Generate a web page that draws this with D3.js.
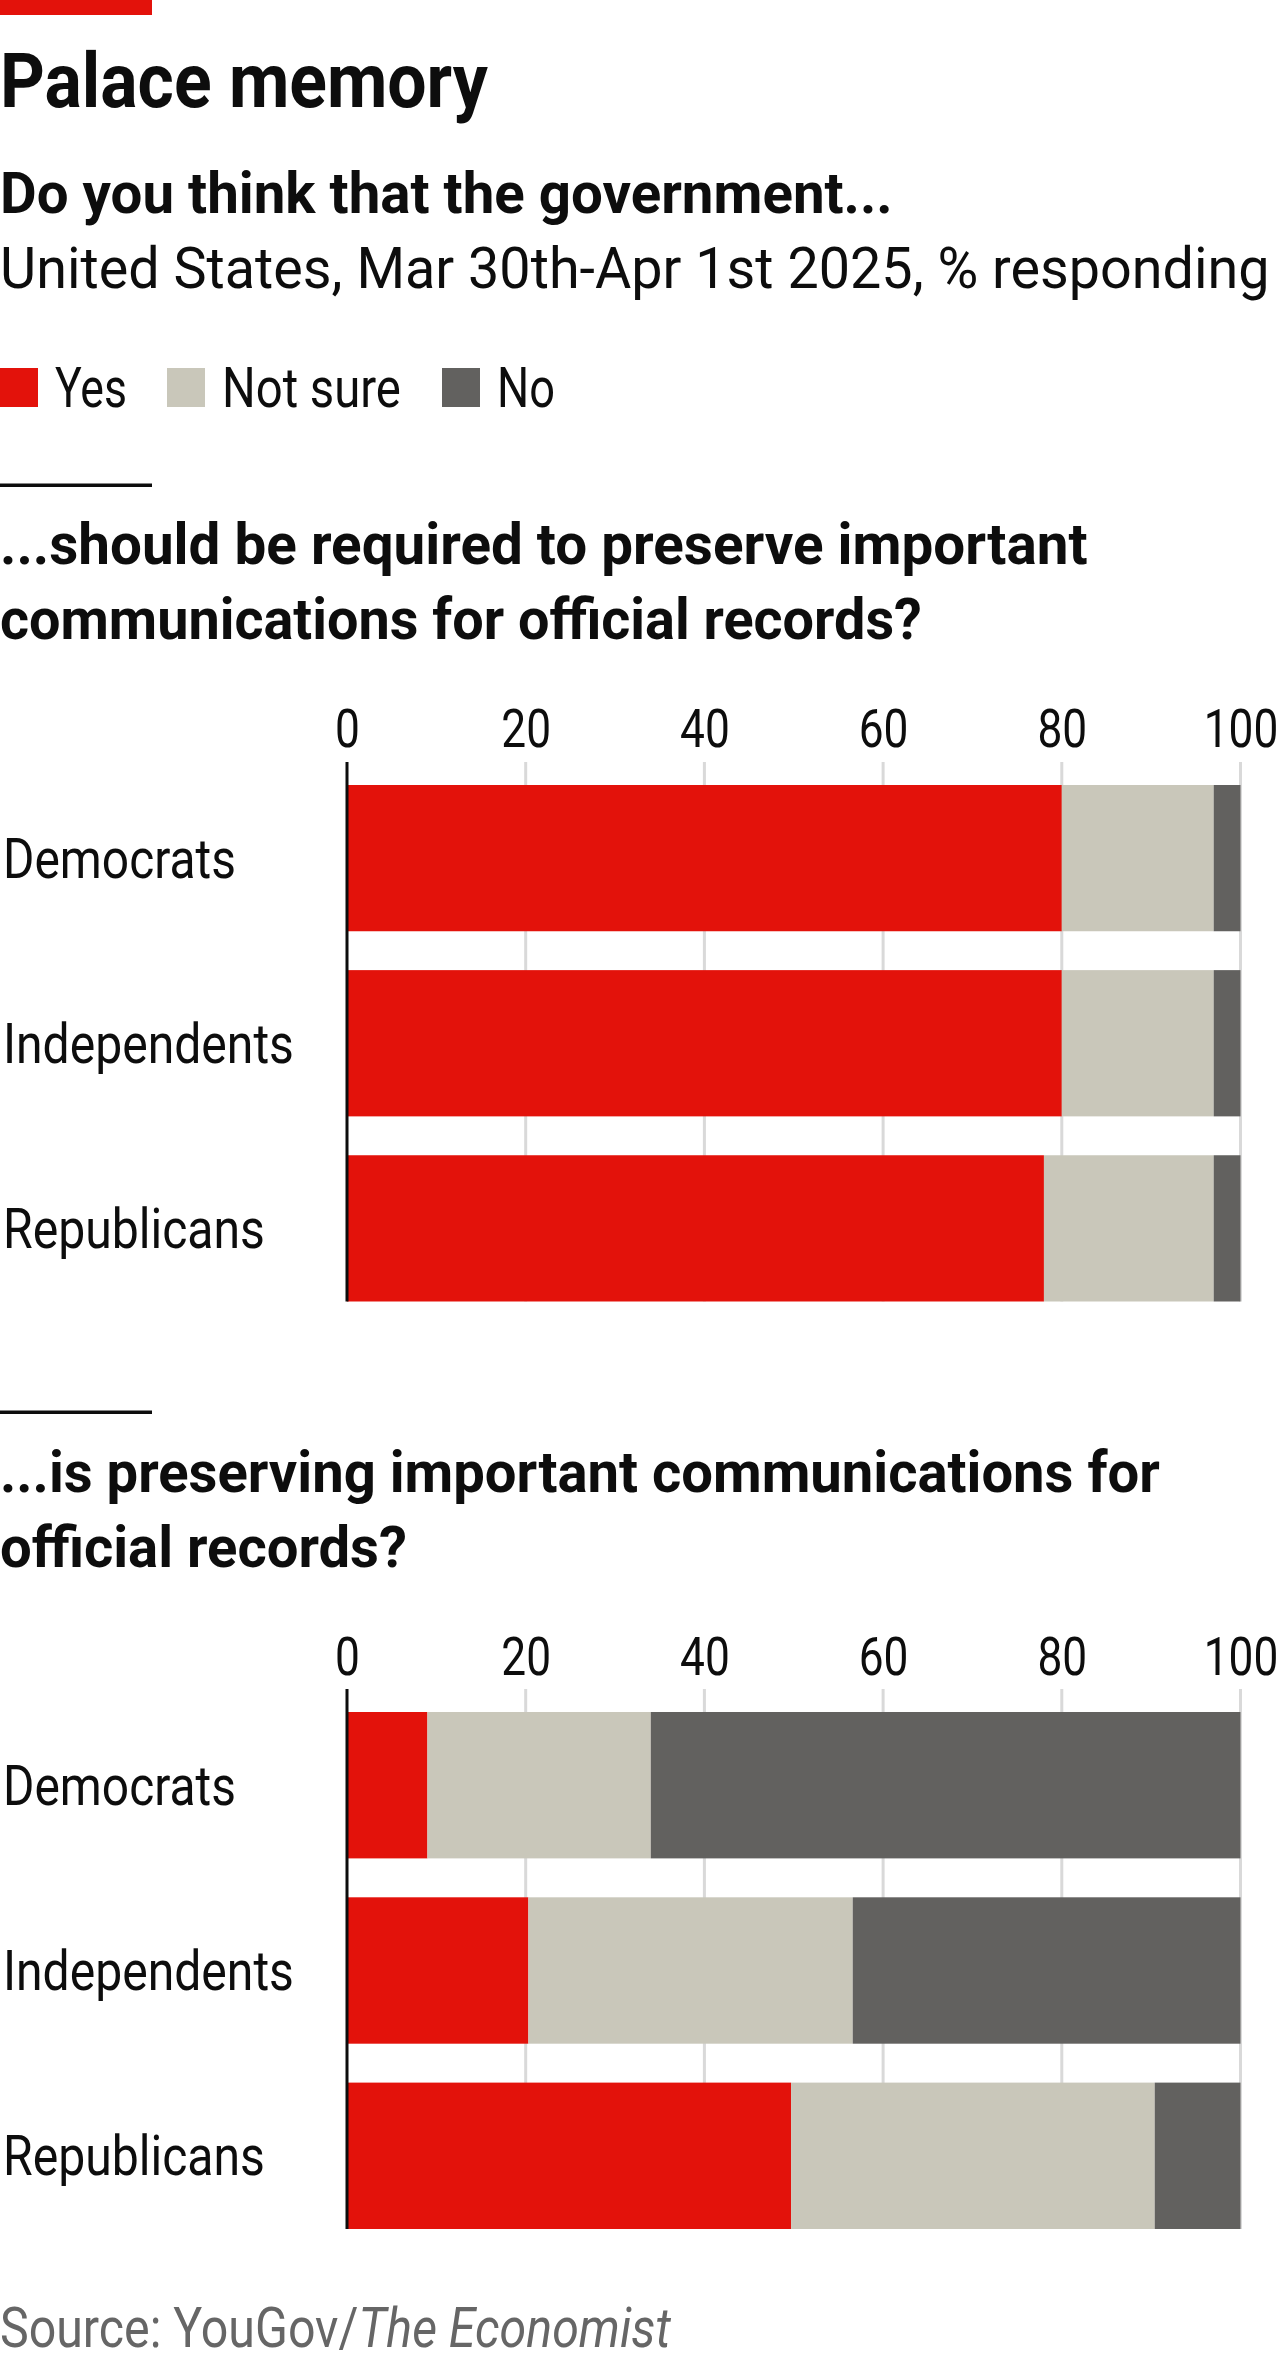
<!DOCTYPE html>
<html>
<head>
<meta charset="utf-8">
<script src="https://cdn.jsdelivr.net/npm/d3@7"></script>
<style>
  html, body { margin: 0; padding: 0; background: #fff; }
  svg { display: block; }
  text { font-family: Roboto, "Noto Sans", sans-serif; fill: #0d0d0d; }
</style>
</head>
<body>
<svg id="chart" width="1280" height="2362"></svg>
<script>
// ---- Data ----
const categories = ["Democrats", "Independents", "Republicans"];
const seriesNames = ["Yes", "Not sure", "No"];
const tickValues = [0, 20, 40, 60, 80, 100];

// "...should be required to preserve important communications for official records?"
const q1Yes     = [80, 80, 78];
const q1NotSure = [17, 17, 19];
const q1No      = [3, 3, 3];

// "...is preserving important communications for official records?"
const q2Yes     = [9, 20.3, 49.7];
const q2NotSure = [25, 36.3, 40.7];
const q2No      = [66, 43.4, 9.6];

const colors = ["#e3120b", "#c9c7ba", "#62615f"];

// ---- Drawing ----
const svg = d3.select("#chart");

// draw a text at (x, y) and squeeze it horizontally to the wanted width
function txt(x, y, s, size, weight, len, parent) {
  const t = (parent || svg).append("text")
    .attr("x", 0).attr("y", 0)
    .attr("font-size", size)
    .attr("font-weight", weight)
    .text(s);
  let sx = 1;
  if (len) {
    const n = t.node().getComputedTextLength();
    sx = len / n;
  }
  t.attr("transform", `translate(${x},${y}) scale(${sx},1)`);
  return t;
}

// top red tag
svg.append("rect").attr("x", 0).attr("y", 0).attr("width", 152).attr("height", 15).attr("fill", "#e3120b");

txt(0, 107, "Palace memory", 76, 700, 488);
txt(0, 213, "Do you think that the government...", 58, 700, 893);
txt(0, 288, "United States, Mar 30th-Apr 1st 2025, % responding", 58, 400, 1270);

// legend
const legendX = [0, 167, 442];
const legendLen = [72, 179, 58];
seriesNames.forEach((s, i) => {
  svg.append("rect").attr("x", legendX[i]).attr("y", 368).attr("width", 38).attr("height", 39).attr("fill", colors[i]);
  txt(legendX[i] + 55, 407, s, 55, 400, legendLen[i]);
});

const x = d3.scaleLinear().domain([0, 100]).range([347, 1240.5]);

function panel(cfg) {
  const g = svg.append("g");
  // rule
  g.append("rect").attr("x", 0).attr("y", cfg.ruleY).attr("width", 152).attr("height", 3.5).attr("fill", "#0d0d0d");
  // title lines
  cfg.title.forEach((line, i) => {
    txt(0, cfg.titleY[i], line, 58, 700, cfg.titleLen[i], g);
  });

  const y = d3.scaleBand().domain(categories).range([cfg.barTop, cfg.barBottom]).paddingInner(0.21).paddingOuter(0);

  // gridlines
  g.append("g").selectAll("line").data(tickValues.filter(d => d > 0)).join("line")
    .attr("x1", d => x(d)).attr("x2", d => x(d))
    .attr("y1", cfg.axisTop).attr("y2", cfg.barBottom)
    .attr("stroke", "#d9d9d9").attr("stroke-width", 3);

  // axis labels via d3 axis
  const axis = d3.axisTop(x).tickValues(tickValues).tickSize(0).tickPadding(0).tickFormat(d3.format("d"));
  const ag = g.append("g").attr("transform", `translate(0,${cfg.tickBase})`).call(axis);
  ag.select(".domain").remove();
  ag.selectAll("text")
    .attr("font-size", 54)
    .attr("font-family", "Roboto, sans-serif")
    .attr("fill", "#0d0d0d")
    .attr("dy", 0)
    .attr("y", 0)
    .attr("transform", "scale(0.82,1)");

  // stacked bars
  const rows = categories.map((c, i) => ({ cat: c, "Yes": cfg.yes[i], "Not sure": cfg.ns[i], "No": cfg.no[i] }));
  const stacked = d3.stack().keys(seriesNames)(rows);
  g.append("g").selectAll("g").data(stacked).join("g")
    .attr("fill", (d, i) => colors[i])
    .selectAll("rect").data(d => d).join("rect")
    .attr("x", d => x(d[0]))
    .attr("width", d => x(d[1]) - x(d[0]))
    .attr("y", d => y(d.data.cat))
    .attr("height", y.bandwidth());

  // zero line
  g.append("line").attr("x1", x(0)).attr("x2", x(0))
    .attr("y1", cfg.axisTop).attr("y2", cfg.barBottom)
    .attr("stroke", "#0d0d0d").attr("stroke-width", 3);

  // category labels
  const catLen = { "Democrats": 233, "Independents": 291, "Republicans": 262 };
  categories.forEach(c => {
    txt(3, y(c) + y.bandwidth() / 2 + 19.5, c, 55, 400, catLen[c], g);
  });
}

panel({
  ruleY: 483.5,
  title: ["...should be required to preserve important", "communications for official records?"],
  titleY: [564, 639],
  titleLen: [1088, 922],
  tickBase: 747,
  axisTop: 762,
  barTop: 785,
  barBottom: 1301.5,
  yes: q1Yes, ns: q1NotSure, no: q1No
});

panel({
  ruleY: 1410.5,
  title: ["...is preserving important communications for", "official records?"],
  titleY: [1492, 1567],
  titleLen: [1160, 407],
  tickBase: 1675,
  axisTop: 1689,
  barTop: 1712,
  barBottom: 2229,
  yes: q2Yes, ns: q2NotSure, no: q2No
});

// source
const src = svg.append("text").attr("x", 0).attr("y", 0).attr("font-size", 55);
src.append("tspan").attr("fill", "#666666").text("Source: YouGov/");
src.append("tspan").attr("fill", "#666666").attr("font-style", "italic").text("The Economist");
const srcN = src.node().getComputedTextLength();
src.attr("transform", `translate(0,2347) scale(${671 / srcN},1)`);
</script>
</body>
</html>
